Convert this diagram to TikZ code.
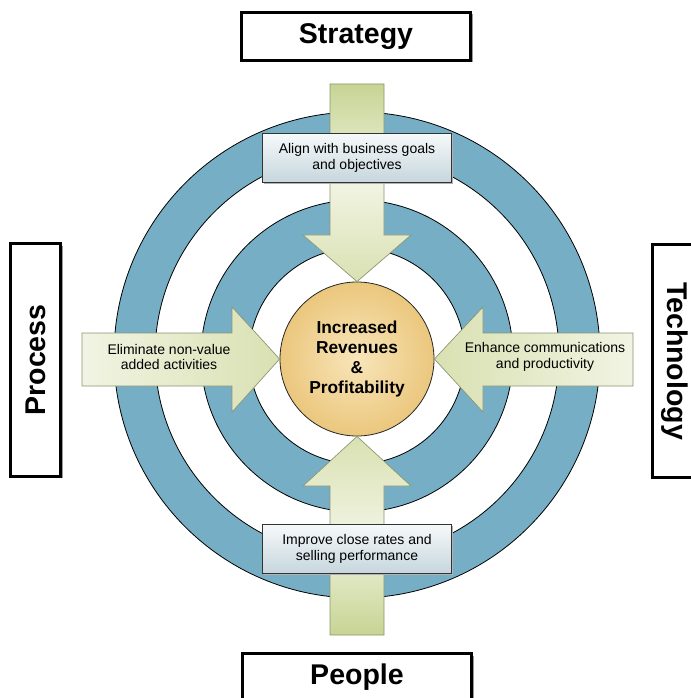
\documentclass[tikz,border=0pt]{standalone}
\usepackage{fontspec}
\setmainfont{Liberation Sans}
\usetikzlibrary{shadows}

\definecolor{ringblue}{HTML}{76AFC5}
\definecolor{armdark}{HTML}{C7D493}
\definecolor{armmid}{HTML}{D9E1B2}
\definecolor{armlight}{HTML}{F1F4E3}
\definecolor{armline}{HTML}{8A9470}
\definecolor{boxtop}{HTML}{F6F9FA}
\definecolor{boxbot}{HTML}{C6D6DD}
\definecolor{goalin}{HTML}{F8E5BA}
\definecolor{goalout}{HTML}{EBC77D}

\begin{document}
\begin{tikzpicture}[x=0.75pt,y=-0.75pt,
        pillar/.style={draw=black,line width=2.25pt,fill=white,inner sep=0pt,
            font=\fontsize{21.4}{24}\selectfont\bfseries,
            general shadow={fill=black!40,shadow xshift=1.5pt,shadow yshift=-1.5pt}},
        callout/.style={draw=black!80,line width=0.6pt,top color=boxtop,bottom color=boxbot,
            minimum width=142pt,minimum height=37pt,align=center,inner sep=0pt,
            font=\fontsize{10.5}{11.5}\selectfont,
            general shadow={fill=black!30,shadow xshift=1pt,shadow yshift=-1pt}},
        armtext/.style={align=center,inner sep=0pt,font=\fontsize{10.5}{11.5}\selectfont},
        arm/.style={draw=armline,line width=0.5pt},
        ringline/.style={draw=black,line width=0.6pt}]
    \useasboundingbox (0,0) rectangle (690,698);
    % rings
    \fill[ringblue,even odd rule] (357,355) circle (243) circle (202);
    \fill[ringblue,even odd rule] (357,356) circle (156) circle (108);
    \draw[ringline] (357,355) circle (243) circle (202);
    \draw[ringline] (357,356) circle (156) circle (108);
    % centre
    \node[circle,draw=black!85,line width=0.6pt,minimum size=115.5pt,inner sep=0pt,
        inner color=goalin,outer color=goalout,align=center,
        font=\fontsize{13}{15}\selectfont\bfseries] (goal) at (357,359)
        {Increased\\Revenues\\\&\\Profitability};
    % block arrows
    \path[arm,top color=armdark,bottom color=armmid,middle color=armlight]
        (330,84) -- (384,84) -- (384,235) -- (411,235) -- (goal.north)
        -- (303,235) -- (330,235) -- cycle;
    \path[arm,top color=armmid,bottom color=armdark,middle color=armlight]
        (330,635) -- (384,635) -- (384,486) -- (411,486) -- (goal.south)
        -- (303,486) -- (330,486) -- cycle;
    \path[arm,left color=armlight,right color=armmid]
        (82,333) -- (232,333) -- (232,307) -- (goal.west) -- (232,412)
        -- (232,386) -- (82,386) -- cycle;
    \path[arm,left color=armmid,right color=armlight]
        (633,333) -- (483,333) -- (483,307) -- (goal.east) -- (483,412)
        -- (483,386) -- (633,386) -- cycle;
    \node[armtext] (elim) at (169,357) {Eliminate non-value\\added activities};
    \node[armtext] (enh) at (545,357) {Enhance communications\\and productivity};
    % callouts
    \node[callout] (align) at (357,158) {Align with business goals\\and objectives};
    \node[callout] (sell) at (357,549) {Improve close rates and\\selling performance};
    % pillars
    \node[pillar,minimum width=172pt,minimum height=36pt] (strategy) at (356,36.5) {Strategy};
    \node[pillar,minimum width=172pt,minimum height=36pt] (people) at (357,677.5) {People};
    \node[pillar,minimum width=37.5pt,minimum height=174pt] (process) at (35.5,360)
        {\rotatebox{90}{Process}};
    \node[pillar,minimum width=37.5pt,minimum height=174pt] (tech) at (677,361)
        {\hspace*{-4pt}\rotatebox{-90}{Technology}};
\end{tikzpicture}
\end{document}
